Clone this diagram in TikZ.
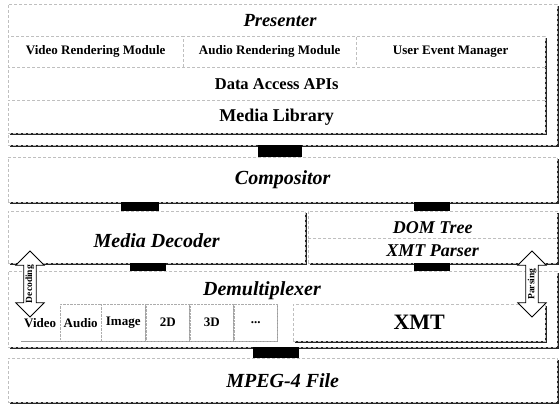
\documentclass[tikz,border=0pt]{standalone}
\usepackage{fontspec}
\setmainfont{Liberation Serif}
\usetikzlibrary{shadows,shapes.arrows}

\tikzset{
  layer/.style={draw=gray!50, densely dashed, thin, fill=white, anchor=north west, inner sep=0pt,
    drop shadow={shadow xshift=2pt, shadow yshift=-2pt, fill=black!85, opacity=1}},
  cell/.style={draw=gray!65, densely dotted, fill=white, anchor=north west, inner sep=0pt,
    drop shadow={shadow xshift=1pt, shadow yshift=-1pt, fill=gray!80, opacity=1}},
  title/.style={font=\fontsize{20}{22}\selectfont\bfseries\itshape},
  subtitle/.style={font=\fontsize{18}{20}\selectfont\bfseries\itshape},
  plain/.style={font=\fontsize{13}{15}\selectfont\bfseries},
  bus/.style={draw=black, line width=#1},
  flow/.style={double arrow, draw=black, fill=white, thick, rotate=90,
    minimum height=66pt, minimum width=14pt, double arrow head extend=8pt,
    inner sep=1.5pt, font=\fontsize{9.5}{10}\selectfont\bfseries}
}

\begin{document}
\begin{tikzpicture}[x=1pt,y=-1pt]
  \useasboundingbox (0,0) rectangle (560,405);

  % presenter layer
  \node[layer, minimum width=549pt, minimum height=141pt] (pres) at (8,4) {};
  \node[title, font=\fontsize{18.5}{20}\selectfont\bfseries\itshape] (prestxt) at (280,21) {Presenter};
  \node[layer, minimum width=175pt, minimum height=31pt] (vrm) at (8,36) {};
  \node[plain] at (vrm.center) {Video Rendering Module};
  \node[layer, minimum width=173pt, minimum height=31pt] (arm) at (183,36) {};
  \node[plain] at (arm.center) {Audio Rendering Module};
  \node[layer, minimum width=189pt, minimum height=31pt] (uem) at (356,36) {};
  \node[plain] at (uem.center) {User Event Manager};
  \node[layer, minimum width=537pt, minimum height=33pt] (dap) at (8,67) {};
  \node[font=\fontsize{16.5}{18}\selectfont\bfseries] at (dap.center) {Data Access APIs};
  \node[layer, minimum width=537pt, minimum height=33pt] (ml) at (8,100) {};
  \node[font=\fontsize{18}{20}\selectfont\bfseries] at (ml.center) {Media Library};

  % compositor
  \node[layer, minimum width=549pt, minimum height=45pt] (comp) at (8,157) {};
  \node[title] at (comp.center) {Compositor};

  % decoder and xmt side
  \node[layer, minimum width=297pt, minimum height=52pt] (mdec) at (8,211) {};
  \node[title] at ([yshift=-3pt]mdec.center) {Media Decoder};
  \node[layer, minimum width=249pt, minimum height=27pt] (dom) at (308,211) {};
  \node[subtitle] at ([yshift=-3pt]dom.center) {DOM Tree};
  \node[layer, minimum width=249pt, minimum height=25pt] (xmtp) at (308,238) {};
  \node[subtitle] at (xmtp.center) {XMT Parser};

  % demultiplexer
  \node[layer, minimum width=549pt, minimum height=76pt] (demux) at (8,271) {};
  \node[title] at (262,291) {Demultiplexer};
  \node[cell, minimum width=40pt, minimum height=37pt, draw=none] (video) at (20,304) {};
  \node[plain] at (video.center) {Video};
  \node[cell, minimum width=41pt, minimum height=37pt] (audio) at (60,304) {};
  \node[plain] at (audio.center) {Audio};
  \node[cell, minimum width=44pt, minimum height=37pt] (image) at (101,304) {};
  \node[plain] at (image.center) {Image};
  \node[cell, minimum width=43pt, minimum height=37pt] (twod) at (146,304) {};
  \node[plain] at (twod.center) {2D};
  \node[cell, minimum width=43pt, minimum height=37pt] (threed) at (190,304) {};
  \node[plain] at (threed.center) {3D};
  \node[cell, minimum width=43pt, minimum height=37pt] (more) at (234,304) {};
  \node[plain] at (more.center) {...};
  \node[layer, minimum width=252pt, minimum height=37pt] (xmt) at (293,304) {};
  \node[font=\fontsize{22}{24}\selectfont\bfseries] at (xmt.center) {XMT};

  % mpeg-4 file
  \node[layer, minimum width=549pt, minimum height=44pt] (mpeg) at (8,358) {};
  \node[title] at (mpeg.center) {MPEG-4 File};

  % links between layers
  \draw[bus=44pt] ([xshift=-3pt]pres.south) -- ([xshift=-3pt]comp.north);
  \draw[bus=38pt] (comp.south -| 140,0) -- (mdec.north -| 140,0);
  \draw[bus=36pt] (comp.south -| 432,0) -- (dom.north -| 432,0);
  \draw[bus=36pt] (mdec.south -| 148,0) -- (demux.north -| 148,0);
  \draw[bus=36pt] (xmtp.south -| 432,0) -- (demux.north -| 432,0);
  \draw[bus=46pt] (demux.south -| 276,0) -- (mpeg.north -| 276,0);

  % decoding and parsing
  \node[flow] (dec) at (30,284) {Decoding};
  \node[flow] (pars) at (532,284) {Parsing};
\end{tikzpicture}
\end{document}
